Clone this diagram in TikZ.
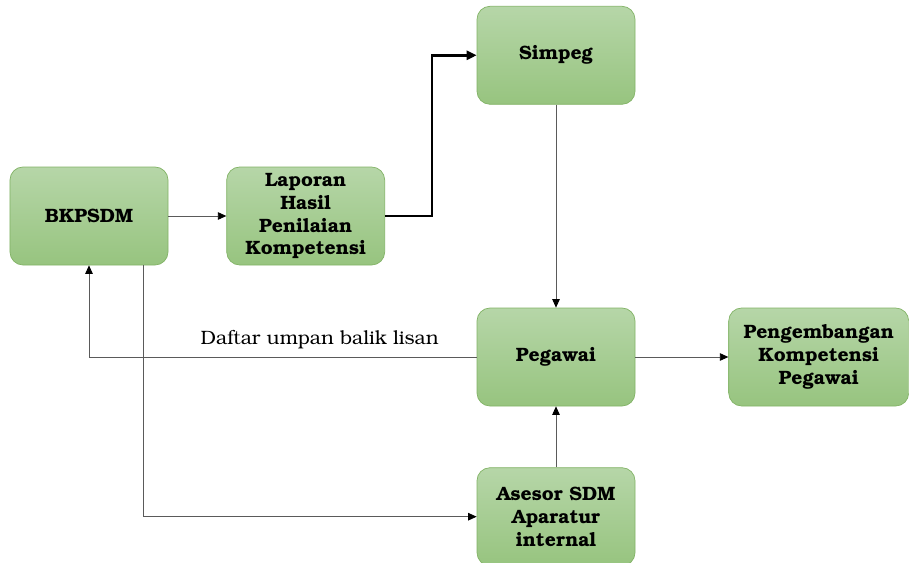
\documentclass[tikz,border=0pt]{standalone}
\usepackage[T1]{fontenc}
\usepackage{bookman}
\usepackage{xcolor}
\usepackage{tikz}
\usetikzlibrary{arrows.meta, positioning}
\definecolor{boxtop}    {HTML}{B6D6A8}
\definecolor{boxbottom} {HTML}{97C47F}
\definecolor{boxline}   {HTML}{82B366}
\definecolor{linegray}  {HTML}{5A5A5A}

\begin{document}
\begin{tikzpicture}[
    box/.style={draw=boxline, rounded corners=0.26cm, top color=boxtop,
                bottom color=boxbottom, text width=3.0cm, align=center,
                minimum width=3.16cm, minimum height=1.96cm, inner sep=1pt,
                font=\bfseries\fontsize{11}{13}\selectfont},
    arr/.style={-{Triangle[length=1.7mm, width=1.5mm, color=black]},
                color=linegray, line width=0.5pt},
    thickarr/.style={-{Triangle[length=2mm, width=1.8mm]}, color=black,
                line width=1.4pt},
  ]
    \useasboundingbox (0,0) rectangle (18.18,-11.26);

    \node[box] (bkpsdm) at (1.78,-4.32) {BKPSDM};

    \node[box, right=1.16cm of bkpsdm] (laporan)
      {Laporan\\Hasil\\Penilaian\\Kompetensi};

    \node[box] (pegawai) at (11.12,-7.14) {Pegawai};

    \node[box, above=4.06cm of pegawai] (simpeg) {Simpeg};

    \node[box, below=1.22cm of pegawai] (asesor)
      {Asesor SDM\\Aparatur\\internal};

    \node[box, minimum width=3.6cm, text width=3.5cm,
          right=1.86cm of pegawai] (pengembangan)
      {Pengembangan\\Kompetensi\\Pegawai};

    \draw[arr] (bkpsdm) -- (laporan);
    \draw[thickarr] (laporan.east) -- ++(0.94,0) |- (simpeg.west);
    \draw[arr] (simpeg) -- (pegawai);
    \draw[arr] (pegawai.west)
      -- node[above, pos=0.405, yshift=1pt, text=black,
              font=\fontsize{11}{13}\selectfont]
         {Daftar umpan balik lisan}
         (bkpsdm.south |- pegawai.west) -- (bkpsdm.south);
    \draw[arr] ([xshift=-0.5cm]bkpsdm.south east) |- (asesor.west);
    \draw[arr] (asesor) -- (pegawai);
    \draw[arr] (pegawai) -- (pengembangan);
  \end{tikzpicture}
\end{document}
